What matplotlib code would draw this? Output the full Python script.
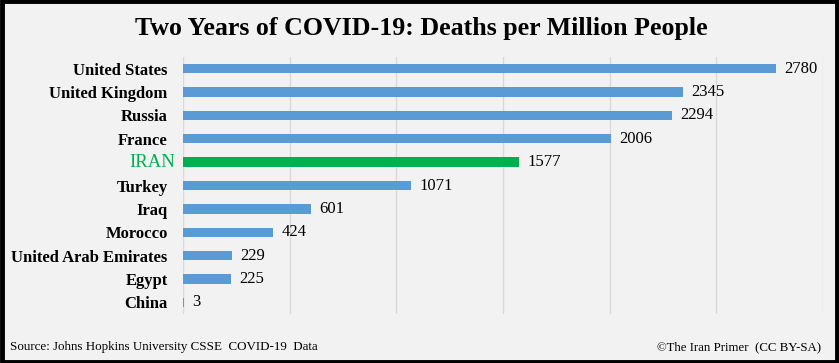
import matplotlib
matplotlib.use('Agg')
import matplotlib.pyplot as plt
from matplotlib.patches import Rectangle

# --- data ---
countries = ["United States", "United Kingdom", "Russia", "France", "IRAN",
             "Turkey", "Iraq", "Morocco", "United Arab Emirates", "Egypt", "China"]
deaths_per_million = [2780, 2345, 2294, 2006, 1577, 1071, 601, 424, 229, 225, 3]
highlight = "IRAN"

BG = "#F2F2F2"
BLUE = "#5B9BD5"
GREEN = "#00B050"
GRID = "#D9D9D9"
SERIF = "Liberation Serif"

fig = plt.figure(figsize=(8.39, 3.63), dpi=100)
fig.patch.set_facecolor(BG)

# axes: x 183..823 px, y 57..314 px
W, H = 839.0, 363.0
ax = fig.add_axes([183 / W, 1 - 314 / H, (823 - 183) / W, (314 - 57) / H])
ax.set_facecolor(BG)

ypos = list(range(len(countries)))
colors = [GREEN if c == highlight else BLUE for c in countries]
ax.barh(ypos, deaths_per_million, height=0.4, color=colors, zorder=3)
ax.set_ylim(len(countries) - 0.5, -0.5)
ax.set_xlim(0, 3000)
ax.set_xticks(range(0, 3001, 500))
ax.xaxis.grid(True, color=GRID, linewidth=1, zorder=0)
ax.tick_params(axis='x', bottom=False, labelbottom=False)
ax.tick_params(axis='y', left=False, pad=7.5)
for s in ax.spines.values():
    s.set_visible(False)

# the highlighted country gets its own label, a bit closer to the axis
ax.set_yticks(ypos)
ax.set_yticklabels(["" if c == highlight else c for c in countries],
                   fontfamily=SERIF, fontweight='bold', fontsize=12)
for y, c in zip(ypos, countries):
    if c == highlight:
        ax.annotate(c, (0, y), xytext=(-5.5, 0), textcoords='offset points',
                    ha='right', va='center', color=GREEN,
                    fontfamily=SERIF, fontsize=13.5)

for y, v in zip(ypos, deaths_per_million):
    ax.annotate(str(v), (v, y), xytext=(6, 0), textcoords='offset points',
                va='center', ha='left', fontfamily=SERIF, fontsize=12, zorder=4)

fig.text(421 / W, 1 - 28 / H, "Two Years of COVID-19: Deaths per Million People",
         ha='center', va='center', fontfamily=SERIF, fontweight='bold', fontsize=18.6)

fig.text(10 / W, 1 - 347 / H, "Source: Johns Hopkins University CSSE  COVID-19  Data",
         ha='left', va='center', fontfamily=SERIF, fontsize=9.4)
fig.text(821 / W, 1 - 347 / H, "\u00a9The Iran Primer  (CC BY-SA)",
         ha='right', va='center', fontfamily=SERIF, fontsize=9.3)

# black frame around the whole picture
fig.patches.append(Rectangle((0.002, 0.004), 0.996, 0.992, transform=fig.transFigure,
                             fill=False, edgecolor='black', linewidth=3.5))

fig.savefig("out.png", dpi=100, facecolor=BG)
